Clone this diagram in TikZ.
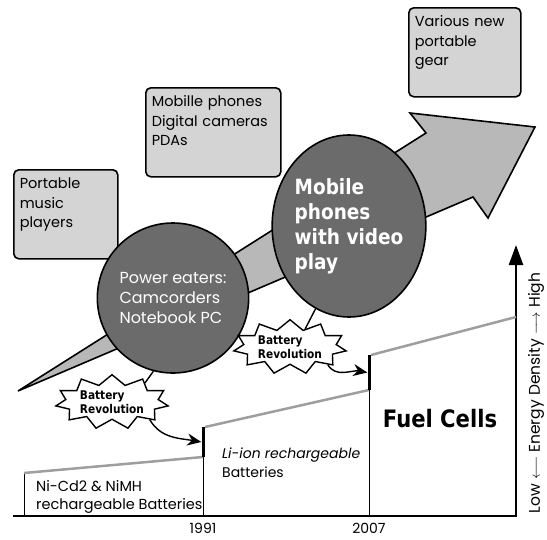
\documentclass[tikz,border=0pt]{standalone}
\usepackage{fontspec}
\setmainfont{Poppins}
\newfontfamily\tahoma{DejaVu Sans}[FakeStretch=0.88]
\usetikzlibrary{shapes.geometric,shapes.symbols,arrows.meta,positioning}
\definecolor{boxgray}{gray}{0.83}
\definecolor{arrowgray}{gray}{0.72}
\definecolor{eatergray}{gray}{0.42}
\definecolor{stepgray}{gray}{0.62}

\begin{document}
\begin{tikzpicture}[x=1pt,y=-1pt,
  gadget/.style={draw,line width=1.6pt,rounded corners=5pt,fill=boxgray,anchor=north west,align=left,
    inner xsep=6pt,inner ysep=8pt,text height=11pt,text depth=62pt,font=\fontsize{14.5}{19.5}\selectfont},
  eater/.style={ellipse,draw,line width=1.6pt,fill=eatergray,text=white,align=left,inner sep=0pt},
  burst/.style={starburst,random starburst=0,starburst points=11,starburst point height=10pt,draw,
    line width=1.4pt,fill=white,align=left,inner sep=1pt,font=\tahoma\bfseries\fontsize{12}{13.5}\selectfont},
  jump/.style={fill=black,inner sep=0pt,minimum width=3pt},
  plain/.style={anchor=north west,align=left,inner sep=0pt,font=\fontsize{14.5}{18.5}\selectfont},
  year/.style={inner sep=0pt,font=\fontsize{14}{16}\selectfont}]
   \useasboundingbox (0,0) rectangle (547,539);
   % growth arrow
   \draw[line width=1.6pt,fill=arrowgray,line join=miter]
     (18,391) -- (426,133) -- (410,113) -- (535,127) -- (488,218) -- (473,197) -- cycle;
   % axes
   \draw[line width=2.4pt,-{Triangle[length=20pt,width=14pt]}] (13,516) -- (516,516) -- (516,245);
   % steps
   \draw[thin] (24,516) -- (24,473) (203,516) -- (203,457) (369,516) -- (369,390);
   \draw[stepgray,line width=2.5pt] (24,473) -- (203,457) (205,427) -- (369,390) (371,355) -- (516,317);
   \node[jump,minimum height=30pt] (jump1) at (203,442) {};
   \node[jump,minimum height=35pt] (jump2) at (369,372.5) {};
   % gadgets
   \node[gadget,text width=92pt] (music) at (13,169) {Portable\\music\\players};
   \node[gadget,text width=123pt] (mobile) at (145,87) {Mobille phones\\Digital cameras\\PDAs};
   \node[gadget,text width=100pt] (gear) at (408,7) {Various new\\portable\\gear};
   % power eaters
   \node[eater,minimum width=120pt,minimum height=150pt,font=\fontsize{16}{20}\selectfont] (pc)
     at (173,298) {Power eaters:\\Camcorders\\Notebook PC};
   \node[eater,minimum width=138pt,minimum height=182pt,font=\tahoma\bfseries\fontsize{21}{25}\selectfont] (video)
     at (349,226) {Mobile\\phones\\with video\\play};
   % revolutions
   \node[burst] (rev1) at (112,402) {Battery\\Revolution};
   \node[burst] (rev2) at (290,347) {Battery\\Revolution};
   \path[line width=1.4pt] (pc.255) edge (rev1.30)
                           (video.248) edge (rev2.50);
   \path[line width=1.4pt,-{Stealth[length=14pt,width=12pt]}]
     (rev1.-25) edge[out=-60,in=170] (jump1.west)
     (rev2.-25) edge[out=-60,in=170] (jump2.west);
   % batteries
   \node[plain] (nicd) at (36,480) {Ni-Cd2 \& NiMH\\rechargeable Batteries};
   \node[plain,font=\fontsize{14}{18.5}\selectfont] (liion) at (222,448) {\textit{Li-ion rechargeable}\\Batteries};
   \node[font=\tahoma\bfseries\fontsize{24}{28}\selectfont] (fuel) at (440,419) {Fuel Cells};
   \node[year] (y1991) at (203,528) {1991};
   \node[year] (y2007) at (369,528) {2007};
   \node[rotate=90,font=\fontsize{15.5}{17}\selectfont] (density) at (536,393)
     {Low $\longleftarrow$ Energy Density $\longrightarrow$ High};
\end{tikzpicture}
\end{document}
